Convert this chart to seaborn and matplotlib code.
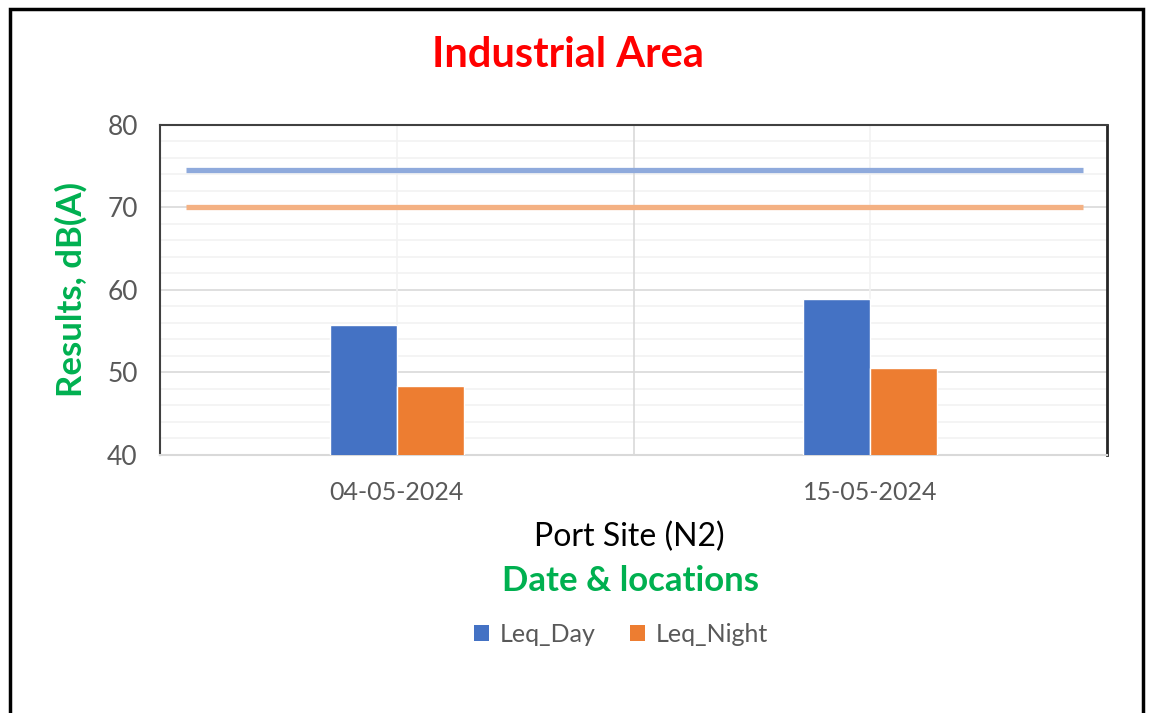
import matplotlib
matplotlib.use("Agg")
import matplotlib.pyplot as plt
import seaborn as sns
import pandas as pd
from matplotlib.patches import Rectangle, Patch
from matplotlib.ticker import MultipleLocator

dates = ["04-05-2024", "15-05-2024"]
leq_day = [55.8, 58.9]
leq_night = [48.4, 50.6]
limit_day = 74.5
limit_night = 70.0
series_names = ["Leq_Day", "Leq_Night"]
colors = {"Leq_Day": "#4472C4", "Leq_Night": "#ED7D31"}
limit_colors = ["#8FAADC", "#F4B183"]

df = pd.DataFrame({
    "date": dates * 2,
    "series": ["Leq_Day"] * len(dates) + ["Leq_Night"] * len(dates),
    "value": leq_day + leq_night,
})

sns.set_theme(style="white")
plt.rcParams["font.family"] = ["Lato", "DejaVu Sans"]

fig = plt.figure(figsize=(11.51, 7.13), dpi=100)
ax = fig.add_axes([160 / 1151, 1 - 455 / 713, (1107 - 160) / 1151, (455 - 125) / 713])

sns.barplot(data=df, x="date", y="value", hue="series", palette=colors,
            width=0.284, ax=ax, legend=False, saturation=1, zorder=3)

ax.set_xlim(-0.5, 1.5)
ax.set_ylim(40, 80)

# limit lines
ax.hlines([limit_day, limit_night], -0.445, 1.45, colors=limit_colors, linewidth=3.8, zorder=4)

# gridlines
ax.yaxis.set_major_locator(MultipleLocator(10))
ax.grid(False)
for y in range(42, 80, 2):
    col = "#D9D9D9" if y % 10 == 0 else "#F2F2F2"
    ax.axhline(y, color=col, linewidth=1.2, zorder=1)
ax.axvline(0.5, color="#D9D9D9", linewidth=1.2, zorder=1)
for xc in [0, 1]:
    ax.axvline(xc, color="#F2F2F2", linewidth=1.2, zorder=1)

for side in ["left", "top"]:
    ax.spines[side].set_color("#404040")
    ax.spines[side].set_linewidth(1.5)
ax.spines["right"].set_color("#262626")
ax.spines["right"].set_linewidth(2.0)
ax.spines["bottom"].set_color("#D9D9D9")
ax.spines["bottom"].set_linewidth(1.5)

ax.tick_params(axis="both", which="both", length=0)
ax.tick_params(axis="y", labelsize=19, labelcolor="#595959", pad=16)
ax.tick_params(axis="x", labelsize=18, labelcolor="#595959", pad=19)

ax.set_xlabel("")
ax.set_ylabel("Results, dB(A)", color="#00B050", fontsize=25, fontweight="bold")
ax.yaxis.set_label_coords(-72 / 947, 0.5)

fig.text(568 / 1151, 1 - 55 / 713, "Industrial Area", color="#FF0000", fontsize=30,
         fontweight="bold", ha="center", va="center")
fig.text(629 / 1151, 1 - 537 / 713, "Port Site (N2)", color="#000000", fontsize=23,
         ha="center", va="center")
fig.text(630 / 1151, 1 - 581 / 713, "Date & locations", color="#00B050", fontsize=25,
         fontweight="bold", ha="center", va="center")

handles = [Patch(facecolor=colors[s], edgecolor="none", label=s) for s in series_names]
fig.legend(handles=handles, loc="center", bbox_to_anchor=(621 / 1151, 1 - 634 / 713), ncol=2,
           frameon=False, fontsize=18, labelcolor="#595959", handlelength=0.6, handleheight=0.6,
           handletextpad=0.4, columnspacing=1.4)

# outer border
fig.patches.append(Rectangle((10 / 1151, -0.05), (1143 - 10) / 1151, 1 - 9 / 713 + 0.05,
                             transform=fig.transFigure, fill=False, edgecolor="black",
                             linewidth=2.5, zorder=10))

fig.savefig("out.png", dpi=100, facecolor="white")
